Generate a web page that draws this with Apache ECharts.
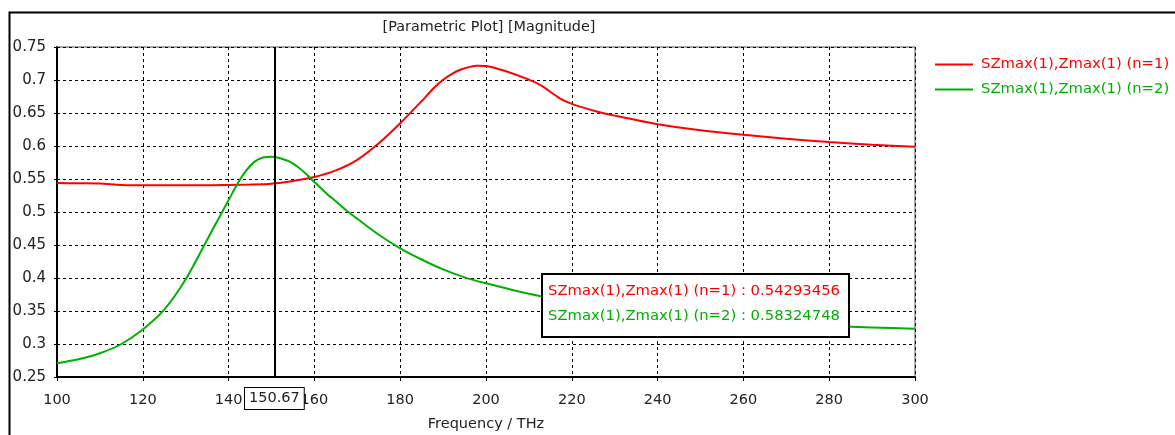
<!DOCTYPE html>
<html><head><meta charset="utf-8">
<script src="https://cdn.jsdelivr.net/npm/echarts@6/dist/echarts.min.js"></script>
<style>html,body{margin:0;padding:0;background:#fff}#c{width:1175px;height:435px}</style>
</head><body><div id="c"></div>
<script>
const titleText = '[Parametric Plot] [Magnitude]';
const xAxisName = 'Frequency / THz';
const seriesNames = ['SZmax(1),Zmax(1) (n=1)', 'SZmax(1),Zmax(1) (n=2)'];
const markerFreq = 150.67;
const markerValues = [0.54293456, 0.58324748];

const freqN1 = [100,105,110,115,120,125,130,135,140,145,150,155,160,165,170,175,180,185,188,190,192,194,196,198,200,205,210,213,217,220,226,230,240,250,260,270,280,290,300];
const valN1  = [0.544,0.5435,0.543,0.541,0.5405,0.5405,0.5405,0.5405,0.541,0.5415,0.5428,0.547,0.553,0.563,0.579,0.604,0.6344,0.668,0.689,0.7005,0.709,0.7155,0.7195,0.7215,0.7212,0.7125,0.7005,0.691,0.673,0.6638,0.652,0.646,0.633,0.624,0.617,0.611,0.606,0.602,0.599];

const freqN2 = [100,105,110,115,120,125,130,135,138,140,142,144,146,148,150,152,154,156,158,160,163,165,168,170,175,180,185,190,195,200,210,220,230,240,250,260,270,280,290,300];
const valN2  = [0.271,0.277,0.286,0.300,0.322,0.352,0.398,0.458,0.494,0.518,0.542,0.562,0.576,0.5825,0.5838,0.5815,0.577,0.569,0.558,0.5455,0.527,0.5163,0.4995,0.4897,0.4655,0.445,0.428,0.413,0.401,0.392,0.376,0.363,0.353,0.345,0.339,0.334,0.330,0.327,0.325,0.323];

const colors = ['#ff0000', '#00b000'];
const FONT = 'DejaVu Sans';

const chart = echarts.init(document.getElementById('c'), null, {renderer:'canvas'});
const pair = (xs, ys) => xs.map((x,i)=>[x, ys[i]]);

chart.setOption({
  animation: false,
  textStyle: {fontFamily: FONT},
  title: {text: titleText, left: 484, top: 15, textAlign: 'center',
    textStyle: {fontFamily: FONT, fontSize: 14.4, fontWeight: 'normal', color: '#222'}},
  legend: {
    orient: 'vertical', left: 930, top: 52, itemWidth: 38, itemHeight: 2, itemGap: 10,
    icon: 'rect', padding: 5,
    data: seriesNames.map((n,i)=>({name:n, textStyle:{color: colors[i]}})),
    textStyle: {fontFamily: FONT, fontSize: 14.8, padding: [0,0,0,3]}
  },
  grid: {left: 57, right: 260, top: 47, bottom: 58, show: true, borderColor: '#555', borderWidth: 1,
    outerBoundsMode: 'none', containLabel: false},
  xAxis: {
    type: 'value', min: 100, max: 300, interval: 20,
    name: xAxisName, nameLocation: 'middle', nameGap: 40,
    nameTextStyle: {fontFamily: FONT, fontSize: 14.5, color: '#222'},
    axisLine: {lineStyle: {color: '#000', width: 2}},
    axisTick: {show: true, length: 4, lineStyle: {color: '#000'}},
    axisLabel: {fontFamily: FONT, fontSize: 14.5, color: '#222', margin: 16},
    splitLine: {show: true, lineStyle: {color: '#000', type: [3,3], width: 1}}
  },
  yAxis: {
    type: 'value', min: 0.25, max: 0.75, interval: 0.05,
    axisLine: {show: true, lineStyle: {color: '#000', width: 2}},
    axisTick: {show: true, length: 3, lineStyle: {color: '#000'}},
    axisLabel: {fontFamily: FONT, fontSize: 15, color: '#222', margin: 11,
      formatter: v => String(+v.toFixed(2))},
    splitLine: {show: true, lineStyle: {color: '#000', type: [3,3], width: 1}}
  },
  series: [
    {name: seriesNames[0], type: 'line', data: pair(freqN1, valN1), smooth: 0.25, symbol: 'none',
     lineStyle: {color: colors[0], width: 2}, itemStyle: {color: colors[0]}, z: 3,
     markLine: {silent: true, symbol: 'none', animation: false, z: 10,
       lineStyle: {color: '#000', width: 2, type: 'solid'},
       label: {show: true, position: 'start', distance: 11, formatter: () => markerFreq.toFixed(2),
         fontFamily: FONT, fontSize: 14.5, color: '#222', backgroundColor: '#fff',
         borderColor: '#000', borderWidth: 1, padding: [3,4,3,4]},
       data: [{xAxis: markerFreq}]}},
    {name: seriesNames[1], type: 'line', data: pair(freqN2, valN2), smooth: 0.25, symbol: 'none',
     lineStyle: {color: colors[1], width: 2}, itemStyle: {color: colors[1]}, z: 3}
  ],
  graphic: [
    {type: 'rect', left: 7, top: 10, z: -10, silent: true,
     shape: {width: 1300, height: 600}, style: {fill: 'none', stroke: '#000', lineWidth: 2}},
    {type: 'rect', left: 541, top: 273, z: 100, silent: true,
     shape: {width: 307, height: 63},
     style: {fill: '#fff', stroke: '#000', lineWidth: 2}},
    {type: 'text', left: 548, top: 284, z: 101, silent: true,
     style: {text: seriesNames[0] + ' : ' + markerValues[0].toFixed(8),
       fill: colors[0], font: '14.8px "DejaVu Sans"'}},
    {type: 'text', left: 548, top: 309, z: 101, silent: true,
     style: {text: seriesNames[1] + ' : ' + markerValues[1].toFixed(8),
       fill: colors[1], font: '14.8px "DejaVu Sans"'}}
  ]
});
</script></body></html>
